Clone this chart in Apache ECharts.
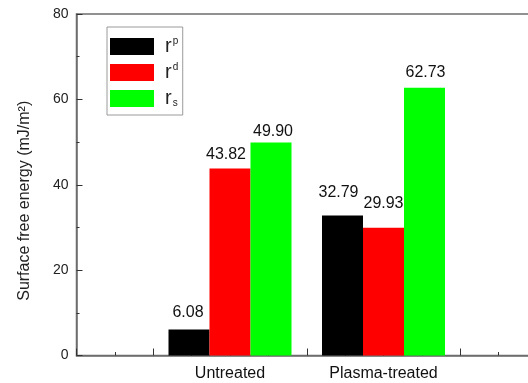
<!DOCTYPE html>
<html>
<head>
<meta charset="utf-8">
<script src="https://cdn.jsdelivr.net/npm/echarts@6/dist/echarts.min.js"></script>
<style>
  html, body { margin: 0; padding: 0; background: #fff; }
  #chart { width: 528px; height: 383px; }
</style>
</head>
<body>
<div id="chart"></div>
<script>
// Sample groups, placed at x = 1 and x = 2 on a numeric axis
const categories = ['Untreated', 'Plasma-treated'];
const categoryPos = [1, 2];

// Surface free energy components (mJ/m²)
const polarValues = [6.08, 32.79];      // r^p
const dispersiveValues = [43.82, 29.93]; // r^d
const totalValues = [49.90, 62.73];      // r_s

const yTicks = [0, 20, 40, 60, 80];

// Label placement tweaks per bar: [distance above bar, horizontal shift]
const labelTweaks = {
  rp: [[9, -1], [15, -4]],
  rd: [[6, -4], [16, 0]],
  rs: [[3, 2], [7, 1]]
};

const FONT = '"Liberation Sans", Arial, sans-serif';

function buildData(values, key) {
  return values.map((v, i) => ({
    value: [categoryPos[i], v],
    label: {
      distance: labelTweaks[key][i][0],
      offset: [labelTweaks[key][i][1], 0]
    }
  }));
}

function barSeries(name, key, values, color) {
  return {
    name: name,
    type: 'bar',
    barWidth: 41,
    barGap: '0%',
    itemStyle: { color: color },
    label: {
      show: true,
      position: 'top',
      color: '#111',
      fontFamily: FONT,
      fontSize: 16,
      formatter: p => p.value[1].toFixed(2)
    },
    data: buildData(values, key)
  };
}

const legendText = {
  rp: '{r|r}{sup|p}',
  rd: '{r|r}{sup|d}',
  rs: '{r|r}{sub|s}'
};

const chart = echarts.init(document.getElementById('chart'), null, { renderer: 'canvas' });

chart.setOption({
  animation: false,
  backgroundColor: '#ffffff',
  grid: {
    left: 76.5,
    top: 14,
    right: -9,
    bottom: 27.5,
    containLabel: false,
    outerBoundsMode: 'none',
    show: true,
    borderColor: '#6e6e6e',
    borderWidth: 1.5,
    backgroundColor: 'transparent'
  },
  legend: {
    left: 107,
    top: 27,
    orient: 'vertical',
    itemWidth: 44,
    itemHeight: 17,
    itemGap: 6,
    padding: [9.5, 4.5, 6.5, 3],
    borderColor: '#9a9a9a',
    borderWidth: 1,
    icon: 'rect',
    data: ['rp', 'rd', 'rs'],
    formatter: n => legendText[n],
    textStyle: {
      fontFamily: FONT,
      rich: {
        r: { fontSize: 20, fontFamily: FONT, color: '#222', lineHeight: 20, padding: [0, 0, 0, 6] },
        sup: { fontSize: 10, fontFamily: FONT, color: '#222', verticalAlign: 'top', lineHeight: 20, padding: [0, 0, 8, 1] },
        sub: { fontSize: 10, fontFamily: FONT, color: '#222', verticalAlign: 'bottom', lineHeight: 20, padding: [10, 0, 0, 1] }
      }
    }
  },
  xAxis: {
    type: 'value',
    min: 0,
    max: 3,
    interval: 0.5,
    axisLine: { show: true, lineStyle: { color: '#6e6e6e', width: 1.5 } },
    axisTick: { show: true, inside: true, length: 7, lineStyle: { color: '#333', width: 1 } },
    minorTick: { show: true, splitNumber: 2, length: 3.5, lineStyle: { color: '#333', width: 1 } },
    splitLine: { show: false },
    axisLabel: {
      margin: 10,
      fontFamily: FONT,
      fontSize: 16,
      color: '#111',
      formatter: v => {
        const idx = categoryPos.indexOf(v);
        return idx >= 0 ? categories[idx] : '';
      }
    }
  },
  yAxis: {
    type: 'value',
    min: yTicks[0],
    max: yTicks[yTicks.length - 1],
    interval: yTicks[1] - yTicks[0],
    name: 'Surface free energy (mJ/m²)',
    nameLocation: 'middle',
    nameGap: 44,
    nameTextStyle: {
      fontFamily: FONT,
      fontSize: 16,
      color: '#222',
      padding: [0, 32, 0, 0]
    },
    axisLine: { show: true, lineStyle: { color: '#6e6e6e', width: 1.5 } },
    axisTick: { show: true, inside: true, length: 6, lineStyle: { color: '#333', width: 1 } },
    minorTick: { show: true, splitNumber: 2, length: 3, lineStyle: { color: '#333', width: 1 } },
    splitLine: { show: false },
    axisLabel: {
      margin: 8,
      fontFamily: FONT,
      fontSize: 14,
      color: '#222'
    }
  },
  series: [
    barSeries('rp', 'rp', polarValues, '#000000'),
    barSeries('rd', 'rd', dispersiveValues, '#ff0000'),
    barSeries('rs', 'rs', totalValues, '#00ff00')
  ]
});
</script>
</body>
</html>
